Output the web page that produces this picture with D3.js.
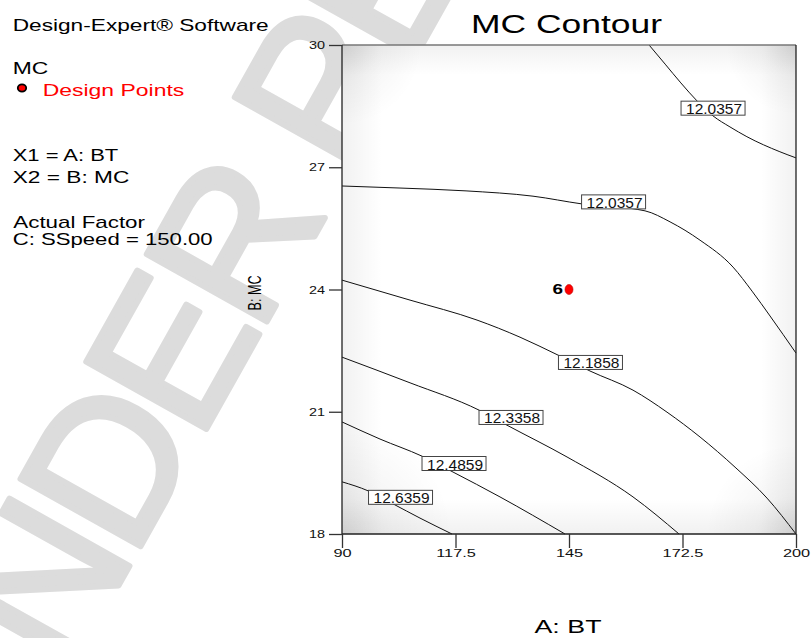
<!DOCTYPE html>
<html>
<head>
<meta charset="utf-8">
<script src="https://cdn.jsdelivr.net/npm/d3@7"></script>
<style>
  body { margin: 0; background: #fff; }
  svg text { font-family: "Liberation Sans", Arial, sans-serif; }
</style>
</head>
<body>
<svg id="chart"></svg>
<script>
// axis ticks
const btTicks = [90, 117.5, 145, 172.5, 200];
const mcTicks = [18, 21, 24, 27, 30];

// contour lines, [BT, MC]
const contour12_0357a = [[164.4, 30], [168.3, 29.53], [172.1, 29.07], [176.0, 28.63], [179.9, 28.26],
  [184.0, 27.99], [188.1, 27.75], [196.1, 27.38], [200, 27.23]];
const contour12_0357b = [[90, 26.54], [104.05, 26.49], [120.05, 26.42], [136.28, 26.29], [148.15, 26.10],
  [163.42, 25.93], [169.48, 25.66], [176.75, 25.21], [184.74, 24.55], [189.35, 23.96],
  [193.71, 23.35], [200, 22.44]];
const contour12_1858 = [[90, 24.23], [106.48, 23.74], [122.71, 23.25], [133.13, 22.83], [142.34, 22.39],
  [150.09, 22.0], [160.51, 21.53], [168.75, 20.99], [176.75, 20.38], [185.23, 19.64],
  [192.98, 18.88], [200, 18]];
const contour12_3358 = [[90, 22.34], [106.48, 21.71], [123.20, 21.04], [129.98, 20.67], [144.52, 19.89],
  [160.51, 18.91], [171.66, 18]];
const contour12_4859 = [[90, 20.75], [99.21, 20.33], [109.38, 19.91], [116.90, 19.52], [128.28, 18.91],
  [144.03, 18]];
const contour12_6359 = [[90, 19.28], [96.30, 19.06], [102.36, 18.74], [108.9, 18.39], [116.65, 18]];

const contourLines = [contour12_0357a, contour12_0357b, contour12_1858, contour12_3358, contour12_4859, contour12_6359];

// contour labels: text, BT, MC
const labelText = ["12.0357", "12.0357", "12.1858", "12.3358", "12.4859", "12.6359"];
const labelBT = [179.9, 155.8, 150.2, 130.95, 117.14, 104.18];
const labelMC = [28.45, 26.15, 22.21, 20.86, 19.73, 18.90];

// design points
const designBT = [145];
const designMC = [24];
const designCount = ["6"];

const width = 811;
const height = 638;
const plot = { left: 342, right: 796, top: 45, bottom: 534 };

const svg = d3.select("#chart")
  .attr("width", width)
  .attr("height", height);

// stretch a text to a given width
function fitText(sel, w) {
  sel.attr("textLength", w).attr("lengthAdjust", "spacingAndGlyphs");
}

// watermark behind everything
svg.append("text")
  .attr("transform", "translate(1,795) rotate(-60.7)")
  .style("font-size", "200px")
  .style("letter-spacing", "-10px")
  .attr("fill", "#dcdcdc")
  .attr("stroke", "#dcdcdc")
  .attr("stroke-width", 6)
  .attr("stroke-linejoin", "round")
  .text("UNDER PEER REVIEW");

const xScale = d3.scaleLinear().domain([90, 200]).range([plot.left, plot.right]);
const yScale = d3.scaleLinear().domain([18, 30]).range([plot.bottom, plot.top]);

// plot background: white, a little grey toward the edges and corners
const defs = svg.append("defs");
function edgeGrad(id, x1, y1, x2, y2) {
  const g = defs.append("linearGradient").attr("id", id)
    .attr("x1", x1).attr("y1", y1).attr("x2", x2).attr("y2", y2);
  g.append("stop").attr("offset", "0").attr("stop-color", "#000").attr("stop-opacity", 0.055);
  g.append("stop").attr("offset", "1").attr("stop-color", "#000").attr("stop-opacity", 0);
}
edgeGrad("gl", 0, 0, 1, 0);
edgeGrad("gr", 1, 0, 0, 0);
edgeGrad("gt", 0, 0, 0, 1);
edgeGrad("gb", 0, 1, 0, 0);

const corner = defs.append("radialGradient").attr("id", "corner");
corner.append("stop").attr("offset", "0").attr("stop-color", "#000").attr("stop-opacity", 0.1);
corner.append("stop").attr("offset", "0.45").attr("stop-color", "#000").attr("stop-opacity", 0.04);
corner.append("stop").attr("offset", "1").attr("stop-color", "#000").attr("stop-opacity", 0);

defs.append("clipPath").attr("id", "plotClip")
  .append("rect")
  .attr("x", plot.left).attr("y", plot.top)
  .attr("width", plot.right - plot.left).attr("height", plot.bottom - plot.top);

const pw = plot.right - plot.left, ph = plot.bottom - plot.top;
const bg = svg.append("g").attr("clip-path", "url(#plotClip)");
bg.append("rect").attr("x", plot.left).attr("y", plot.top)
  .attr("width", pw).attr("height", ph).attr("fill", "#fff");
bg.append("rect").attr("x", plot.left).attr("y", plot.top)
  .attr("width", 40).attr("height", ph).attr("fill", "url(#gl)");
bg.append("rect").attr("x", plot.right - 35).attr("y", plot.top)
  .attr("width", 35).attr("height", ph).attr("fill", "url(#gr)");
bg.append("rect").attr("x", plot.left).attr("y", plot.top)
  .attr("width", pw).attr("height", 30).attr("fill", "url(#gt)");
bg.append("rect").attr("x", plot.left).attr("y", plot.bottom - 35)
  .attr("width", pw).attr("height", 35).attr("fill", "url(#gb)");
[[plot.left, plot.top, 80], [plot.right, plot.top, 70],
 [plot.left, plot.bottom, 110], [plot.right, plot.bottom, 90]].forEach(c => {
  bg.append("circle")
    .attr("cx", c[0]).attr("cy", c[1]).attr("r", c[2])
    .attr("fill", "url(#corner)");
});

// contour lines
const line = d3.line()
  .x(d => xScale(d[0]))
  .y(d => yScale(d[1]))
  .curve(d3.curveMonotoneX);

svg.append("g")
  .selectAll("path")
  .data(contourLines)
  .enter()
  .append("path")
  .attr("d", line)
  .attr("fill", "none")
  .attr("stroke", "#111")
  .attr("stroke-width", 1);

// contour labels
const labels = svg.append("g")
  .selectAll("g")
  .data(labelText)
  .enter()
  .append("g")
  .attr("transform", (d, i) => `translate(${xScale(labelBT[i])},${yScale(labelMC[i])})`);

labels.append("rect")
  .attr("x", -32).attr("y", -7)
  .attr("width", 64).attr("height", 14)
  .attr("fill", "#fff")
  .attr("stroke", "#444")
  .attr("stroke-width", 1);

labels.append("text")
  .attr("x", 1).attr("y", 6)
  .attr("text-anchor", "middle")
  .style("font-size", "15px")
  .attr("fill", "#111")
  .text(d => d)
  .call(fitText, 56);

// plot frame
svg.append("line")
  .attr("x1", plot.left).attr("x2", plot.right)
  .attr("y1", plot.top).attr("y2", plot.top)
  .attr("stroke", "#777").attr("stroke-width", 1.5);
svg.append("path")
  .attr("d", `M${plot.left},${plot.top}V${plot.bottom}H${plot.right}V${plot.top}`)
  .attr("fill", "none")
  .attr("stroke", "#222")
  .attr("stroke-width", 1.3);

// axes
const xAxis = d3.axisBottom(xScale)
  .tickValues(btTicks)
  .tickSize(14)
  .tickPadding(1)
  .tickFormat(d => String(d));

const yAxis = d3.axisLeft(yScale)
  .tickValues(mcTicks)
  .tickSize(13)
  .tickPadding(4)
  .tickFormat(d => String(d));

const gx = svg.append("g")
  .attr("transform", `translate(0,${plot.bottom})`)
  .call(xAxis);
gx.select(".domain").remove();
gx.selectAll("line").attr("stroke", "#333").attr("stroke-width", 1.3);
gx.selectAll("text")
  .style("font-size", "11.5px")
  .style("font-family", "'Liberation Sans', Arial, sans-serif")
  .attr("fill", "#111")
  .each(function () {
    d3.select(this).call(fitText, this.getComputedTextLength() * 1.42);
  });

const gy = svg.append("g")
  .attr("transform", `translate(${plot.left},0)`)
  .call(yAxis);
gy.select(".domain").remove();
gy.selectAll("line").attr("stroke", "#333").attr("stroke-width", 1.3);
gy.selectAll("text")
  .style("font-size", "11.5px")
  .style("font-family", "'Liberation Sans', Arial, sans-serif")
  .attr("fill", "#111")
  .each(function () {
    d3.select(this).call(fitText, this.getComputedTextLength() * 1.25);
  });

// design points
const pts = svg.append("g")
  .selectAll("g")
  .data(designBT)
  .enter()
  .append("g")
  .attr("transform", (d, i) => `translate(${xScale(d)},${yScale(designMC[i])})`);

pts.append("ellipse")
  .attr("rx", 4).attr("ry", 5)
  .attr("fill", "#ff0000")
  .attr("stroke", "#b00")
  .attr("stroke-width", 0.6);

pts.append("text")
  .attr("x", -6).attr("y", 4.5)
  .attr("text-anchor", "end")
  .style("font-size", "15px")
  .style("font-weight", "bold")
  .attr("fill", "#000")
  .text((d, i) => designCount[i])
  .call(fitText, 10.5);

// title and axis titles
svg.append("text")
  .attr("x", 471).attr("y", 33)
  .style("font-size", "25.5px")
  .attr("fill", "#000")
  .text("MC Contour")
  .call(fitText, 191);

svg.append("text")
  .attr("x", 568).attr("y", 633)
  .attr("text-anchor", "middle")
  .style("font-size", "18.5px")
  .attr("fill", "#000")
  .text("A:  BT")
  .call(fitText, 67);

svg.append("text")
  .attr("transform", "translate(261,293) rotate(-90)")
  .attr("text-anchor", "middle")
  .style("font-size", "18px")
  .attr("fill", "#000")
  .text("B: MC")
  .call(fitText, 35);

// side panel
const panel = [
  { t: "Design-Expert® Software", x: 12.7, y: 31, w: 256, c: "#000" },
  { t: "MC", x: 12.7, y: 74, w: 35.6, c: "#000" },
  { t: "Design Points", x: 42.7, y: 95.7, w: 141.6, c: "#ff0000" },
  { t: "X1 = A: BT", x: 12.7, y: 160.7, w: 105.6, c: "#000" },
  { t: "X2 = B: MC", x: 12.7, y: 183.3, w: 116.6, c: "#000" },
  { t: "Actual Factor", x: 13.3, y: 227.7, w: 131.7, c: "#000" },
  { t: "C: SSpeed = 150.00", x: 12.7, y: 244.5, w: 200, c: "#000" }
];

panel.forEach(p => {
  svg.append("text")
    .attr("x", p.x).attr("y", p.y)
    .style("font-size", "17px")
    .attr("fill", p.c)
    .text(p.t)
    .call(fitText, p.w);
});

svg.append("ellipse")
  .attr("cx", 22).attr("cy", 88)
  .attr("rx", 4.2).attr("ry", 3.6)
  .attr("fill", "#ff0000")
  .attr("stroke", "#000")
  .attr("stroke-width", 1.8);
</script>
</body>
</html>
